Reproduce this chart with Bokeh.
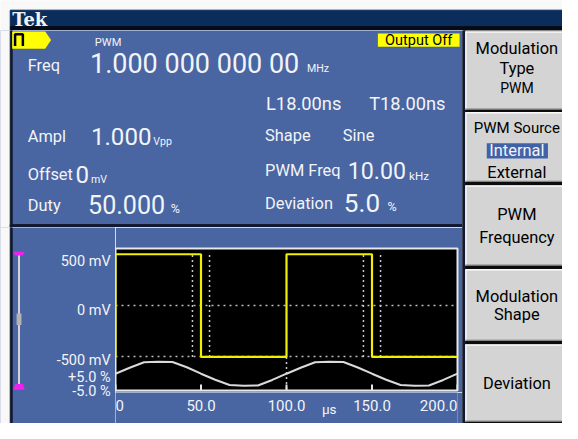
from bokeh.plotting import figure
from bokeh.layouts import column, row
from bokeh.models import Range1d, FixedTicker, Grid
from bokeh.core.properties import value
from bokeh.embed import file_html
from bokeh.resources import INLINE

pwm_time_us = [0, 0, 50, 50, 100, 100, 150, 150, 200]
pwm_level_mv = [-500, 500, 500, -500, -500, 500, 500, -500, -500]

mod_time_us = [0, 8.3, 16.7, 25, 33.3, 41.7, 50, 58.3, 66.7, 75, 83.3, 91.7,
               100, 108.3, 116.7, 125, 133.3, 141.7, 150, 158.3, 166.7, 175, 183.3, 191.7, 200]
mod_dev_pct = [0, 2.5, 4.8, 5.0, 4.9, 2.7, 0, -2.5, -4.7, -5.0, -4.9, -2.6,
               0, 2.5, 4.8, 5.0, 4.9, 2.6, 0, -2.5, -4.7, -5.0, -4.9, -2.6, 0]

dev_marker_us = [45, 55, 145, 155]
period_marker_us = [100]
grid_levels_mv = [0, -500]

x_ticks_us = [0, 50, 100, 150, 200]
x_tick_labels = ["0", "50.0", "100.0", "150.0", "200.0"]
x_unit = "µs"
x_unit_at_us = 125
y_ticks_mv = [500, 0, -500]
y_tick_labels = ["500 mV", "0 mV", "-500 mV"]
mod_ticks_pct = [5, -5]
mod_tick_labels = ["+5.0 %", "-5.0 %"]

mode_name = "PWM"
output_state = "Output Off"
freq_value, freq_unit = "1.000 000 000 00", "MHz"
lead_text, trail_text = "L18.00ns", "T18.00ns"
ampl_value, ampl_unit = "1.000", "Vpp"
offset_value, offset_unit = "0", "mV"
duty_value, duty_unit = "50.000", "%"
shape_value = "Sine"
pwm_freq_value, pwm_freq_unit = "10.00", "kHz"
deviation_value, deviation_unit = "5.0", "%"

menu_buttons = [["Modulation", "Type", "PWM"],
                ["PWM Source", "Internal", "External"],
                ["PWM", "Frequency"],
                ["Modulation", "Shape"],
                ["Deviation"]]

# ---------------- styles / layout ----------------
NAVY = "#0b2d5b"
BLUE = "#4965a2"
DARK = "#111a30"
WHITE = "#f2f4f8"
PAPER = "#f8f8f8"
BTN = "#d4d4d4"
YELLOW = "#f0f000"
MAGENTA = "#f020f0"
FONT = "Roboto"

SX, SY = 562 / 578, 423 / 439      # reference layout scaled to the page
FS = 0.965                          # font scale


def PX(r):
    return round(r * SX)


def PY(r):
    return round(r * SY)


def canvas(x0, x1, y0, y1, fill):
    f = figure(width=PX(x1) - PX(x0), height=PY(y1) - PY(y0),
               x_range=Range1d(x0, x1), y_range=Range1d(y1, y0),
               output_backend="svg", toolbar_location=None, x_axis_type=None, y_axis_type=None,
               min_border=0)
    f.background_fill_color = fill
    f.border_fill_color = fill
    f.outline_line_color = None
    return f


def put(f, x, y, s, size, color=WHITE, font=FONT, align="left", style="normal"):
    f.text(x=[x], y=[y], text=[s], text_font=value(font), text_font_size=value(f"{size * FS:.1f}px"),
           text_color=color, text_align=align, text_baseline="middle", text_font_style=style)


# ---------------- header ----------------
header = canvas(0, 578, 0, 31, PAPER)
header.quad(left=10, right=578, top=10, bottom=27, color=NAVY)
header.quad(left=10, right=578, top=27, bottom=31, color="#060b16")
put(header, 12, 19.5, "Tek", 18.5, font="DejaVu Serif", style="bold")

# ---------------- settings panel ----------------
info = canvas(0, 475, 31, 236, BLUE)
info.quad(left=0, right=10, top=31, bottom=236, color=PAPER)
info.quad(left=10, right=12, top=31, bottom=236, color=DARK)
info.quad(left=10, right=475, top=233, bottom=236, color=DARK)
info.patch([12, 46, 52, 46, 12], [32, 32, 41, 50, 50], fill_color="#ffff00", line_color=None)
info.line([15, 15, 23, 23], [47, 35, 35, 47], line_color="black", line_width=2.5)
put(info, 97, 43.5, mode_name, 11.5)
info.quad(left=388, right=472, top=34, bottom=48, fill_color="#ffff00", line_color=None)
put(info, 430, 41.5, output_state, 15, color="black", align="center")

put(info, 28, 67, "Freq", 17)
put(info, 92, 66, freq_value, 28)
put(info, 315, 71, freq_unit, 11)
put(info, 273, 107, lead_text, 19)
put(info, 379, 107, trail_text, 19)

put(info, 28, 141, "Ampl", 17)
put(info, 93, 141, ampl_value, 25)
put(info, 157, 146, ampl_unit, 11)
put(info, 28, 181, "Offset", 17)
put(info, 77, 181, offset_value, 25)
put(info, 93, 186, offset_unit, 11)
put(info, 28, 213, "Duty", 17)
put(info, 90, 212, duty_value, 26)
put(info, 175, 216, duty_unit, 13)

put(info, 272, 140, "Shape", 17)
put(info, 352, 140, shape_value, 17)
put(info, 272, 177, "PWM Freq", 17)
put(info, 357, 177, pwm_freq_value, 24)
put(info, 420, 182, pwm_freq_unit, 12)
put(info, 272, 211, "Deviation", 17)
put(info, 353, 210, deviation_value, 27)
put(info, 398, 214, deviation_unit, 13)

# ---------------- waveform plot ----------------
Y_MIN, Y_MAX = -827, 556
MOD_MIN, MOD_MAX = -7, 52.2
X_RANGE = Range1d(0, 200)

W_TOP = PY(257) - PY(236)
W_BOT = PY(407) - PY(405)
W_H = PY(407) - PY(236)
F_H = W_H - W_TOP - W_BOT
mvpp = (Y_MAX - Y_MIN) / F_H
modpp = (MOD_MAX - MOD_MIN) / F_H

wave = figure(width=PX(475) - PX(118), height=W_H, x_range=X_RANGE, y_range=Range1d(Y_MIN, Y_MAX),
              output_backend="svg", toolbar_location=None, x_axis_type=None, y_axis_type=None,
              min_border_left=0, min_border_right=PX(475) - PX(470),
              min_border_top=W_TOP, min_border_bottom=W_BOT)
wave.extra_y_ranges = {"mod": Range1d(MOD_MIN, MOD_MAX)}
wave.background_fill_color = "black"
wave.border_fill_color = BLUE
wave.outline_line_color = "#e8e8e8"
wave.outline_line_width = 2
wave.add_layout(Grid(dimension=1, ticker=FixedTicker(ticks=grid_levels_mv), grid_line_color="#bdbdbd",
                     grid_line_dash="2 4", grid_line_width=1.5))

n = len(dev_marker_us)
wave.segment(x0=dev_marker_us, y0=[-500] * n, x1=dev_marker_us, y1=[500] * n,
             line_color="#c8c8c8", line_dash="2 3", line_width=1.5)
wave.segment(x0=period_marker_us, y0=[-500], x1=period_marker_us, y1=[Y_MIN],
             line_color="#c8c8c8", line_dash="2 3", line_width=1.5)
# inward tick marks on the time axis
k = len(x_ticks_us)
wave.segment(x0=x_ticks_us, y0=[Y_MIN] * k, x1=x_ticks_us, y1=[Y_MIN + 6 * mvpp] * k,
             line_color="#e8e8e8", line_width=2)
wave.line(mod_time_us, mod_dev_pct, y_range_name="mod", line_color="#dadada", line_width=2)
wave.line(pwm_time_us, pwm_level_mv, line_color=YELLOW, line_width=2.2)

# x tick labels, through the shared time scale
strip = figure(width=PX(475) - PX(118), height=PY(439) - PY(407), x_range=X_RANGE,
               y_range=Range1d(439, 407), output_backend="svg", toolbar_location=None,
               x_axis_type=None, y_axis_type=None, min_border=0, min_border_right=PX(475) - PX(470))
strip.background_fill_color = BLUE
strip.border_fill_color = BLUE
strip.outline_line_color = None
LBL = dict(text_font=value(FONT), text_font_size=value(f"{15.5 * FS:.1f}px"), text_color=WHITE,
           text_baseline="middle")
strip.text(x=x_ticks_us[:1], y=[420], text=x_tick_labels[:1], text_align="left", **LBL)
strip.text(x=x_ticks_us[1:-1], y=[420] * 3, text=x_tick_labels[1:-1], text_align="center", **LBL)
strip.text(x=x_ticks_us[-1:], y=[420], text=x_tick_labels[-1:], text_align="right", **LBL)
strip.text(x=[x_unit_at_us], y=[424], text=[x_unit], text_align="center",
           **{**LBL, "text_font_size": value(f"{14 * FS:.1f}px")})

# left strip: scroll bar and y tick labels, through extended copies of the plot's y scales
L_H = PY(439) - PY(236)
side = canvas(0, 118, 236, 439, BLUE)
side.extra_y_ranges = {
    "mv": Range1d(Y_MIN - (L_H - W_TOP - F_H) * mvpp, Y_MAX + W_TOP * mvpp),
    "mod": Range1d(MOD_MIN - (L_H - W_TOP - F_H) * modpp, MOD_MAX + W_TOP * modpp),
}
side.quad(left=0, right=10, top=236, bottom=439, color=PAPER)
side.quad(left=10, right=12, top=236, bottom=439, color=DARK)
side.line([19, 19], [262, 402], line_color="#d4d4d4", line_width=2)
side.patch([13, 25, 23, 15], [261, 261, 265, 265], fill_color=MAGENTA, line_color=None)
side.patch([15, 23, 25, 13], [398, 398, 404, 404], fill_color=MAGENTA, line_color=None)
side.quad(left=16.5, right=21.5, top=325, bottom=337, fill_color="#b4b4b4", line_color=None)
YL = dict(text_font=value(FONT), text_font_size=value(f"{15 * FS:.1f}px"), text_color=WHITE,
          text_align="right", text_baseline="middle")
side.text(x=[113] * len(y_ticks_mv), y=y_ticks_mv, text=y_tick_labels, y_range_name="mv",
          y_offset=[7, 5, 4], **YL)
side.text(x=[113] * len(mod_ticks_pct), y=mod_ticks_pct, text=mod_tick_labels, y_range_name="mod",
          y_offset=[16, 6], **YL)

# ---------------- soft-key menu ----------------
btns = canvas(475, 578, 31, 439, "#0c0c0c")
btns.quad(left=475, right=478, top=31, bottom=439, color=DARK)
tops = [32, 116, 192, 279, 357]
bots = [113, 188, 275, 353, 437]
btns.quad(left=[478] * 5, right=[590] * 5, top=tops, bottom=bots, fill_color=BTN, line_color=None)
btns.segment(x0=[478] * 5, y0=[t + 0.5 for t in tops], x1=[590] * 5, y1=[t + 0.5 for t in tops],
             line_color="#fafafa", line_width=1.5)
btns.segment(x0=[478.5] * 5, y0=tops, x1=[478.5] * 5, y1=bots, line_color="#fafafa", line_width=1.5)
btns.segment(x0=[478] * 5, y0=[b - 0.5 for b in bots], x1=[590] * 5, y1=[b - 0.5 for b in bots],
             line_color="#7a7a7a", line_width=1)
btns.quad(left=500, right=563, top=148, bottom=164, fill_color="#4262a8", line_color=None)

text_rows = [[50, 70, 91], [132, 156, 178], [222, 246], [307, 326], [397]]
for labels, ys in zip(menu_buttons, text_rows):
    for s, y in zip(labels, ys):
        color = WHITE if s == "Internal" else "black"
        size = 15.5 if s == "PWM Source" else (14.5 if (s == "PWM" and labels[0] == "Modulation") else 17)
        put(btns, 531, y, s, size, color=color, align="center")

layout = column(header,
                row(column(info, row(side, column(wave, strip))), btns))
open("out.html", "w").write(file_html(layout, INLINE))
